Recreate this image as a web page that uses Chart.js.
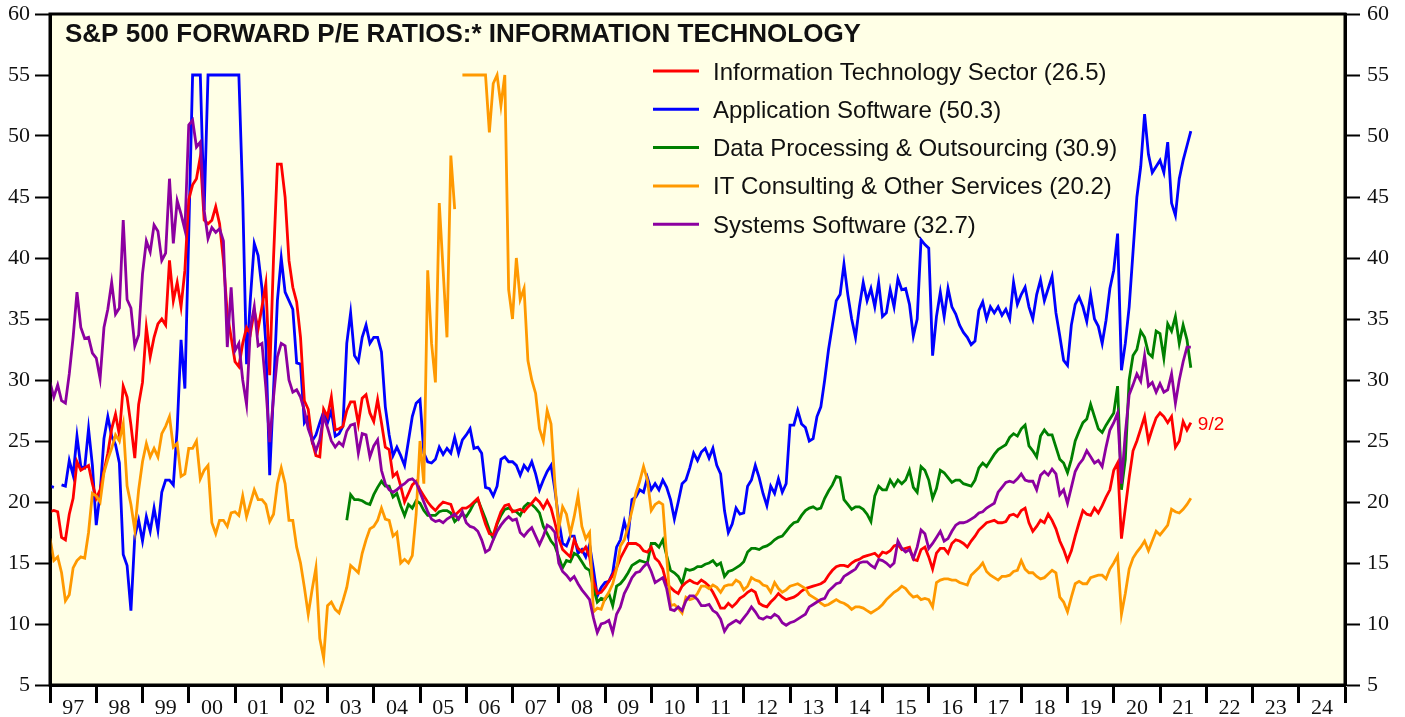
<!DOCTYPE html>
<html>
<head>
<meta charset="utf-8">
<script src="https://cdn.jsdelivr.net/npm/chart.js@4.4.0/dist/chart.umd.min.js"></script>
<style>
  html, body { margin: 0; padding: 0; background: #fff; }
  #wrap { width: 1405px; height: 717px; }
</style>
</head>
<body>
<div id="wrap"><canvas id="chart" width="1405" height="717"></canvas></div>
<script>
// monthly readings, Jan 1997 .. Sep 2021 (one row per year)
var yearLabels = ['97','98','99','00','01','02','03','04','05','06','07','08','09','10',
                  '11','12','13','14','15','16','17','18','19','20','21','22','23','24'];
var yTicks = [5, 10, 15, 20, 25, 30, 35, 40, 45, 50, 55, 60];

var seriesNames = ['Information Technology Sector (26.5)', 'Application Software (50.3)',
                   'Data Processing & Outsourcing (30.9)', 'IT Consulting & Other Services (20.2)',
                   'Systems Software (32.7)'];

var techSector = [
  19.2,19.3,19.2,17.1,16.9,19.0,20.3,23.3,22.6,22.8,23.0,21.5,
  20.3,21.0,22.5,24.0,26.0,27.2,25.5,29.5,28.6,26.3,23.6,28.0,
  29.8,34.3,31.9,33.5,34.6,35.0,34.5,39.8,36.5,38.0,36.0,39.0,
  44.8,46.0,46.5,48.3,43.1,42.8,43.1,44.2,42.8,39.8,35.4,33.5,
  31.5,31.1,33.0,34.3,33.8,35.7,34.2,36.0,37.9,30.4,40.0,47.7,
  47.7,45.0,39.8,37.6,36.4,33.5,28.3,27.6,25.0,23.8,23.7,27.6,
  27.0,28.6,25.9,26.0,26.2,27.5,28.2,28.2,26.4,28.5,28.8,27.3,
  26.6,28.4,26.5,24.5,24.3,22.1,22.4,21.3,20.0,20.7,21.4,21.7,
  21.0,20.5,20.0,19.6,19.3,19.7,20.0,19.9,19.8,18.9,19.2,19.5,
  19.5,19.7,20.0,20.3,19.2,18.2,17.4,17.3,18.3,19.2,19.7,19.8,
  19.2,19.3,19.4,19.2,19.6,19.9,20.3,20.0,19.5,20.1,19.5,18.3,
  17.0,16.1,15.8,15.5,16.9,16.2,15.9,16.3,15.5,13.5,12.5,12.6,
  13.0,13.5,14.0,14.6,15.4,16.0,16.6,16.6,16.6,16.4,16.0,15.9,
  16.3,15.4,15.1,14.5,13.3,13.0,12.7,12.5,13.1,13.4,13.6,13.4,
  13.3,13.6,13.4,13.1,12.6,12.0,11.3,11.3,11.7,11.4,11.7,12.1,
  12.3,12.6,12.8,12.6,11.7,11.5,11.4,11.8,12.1,12.5,12.2,12.0,
  12.1,12.2,12.4,12.7,12.9,13.0,13.1,13.2,13.3,13.5,14.0,14.4,
  14.7,14.8,14.8,14.7,15.0,15.2,15.3,15.5,15.6,15.7,15.8,15.5,
  15.9,15.8,16.0,16.4,16.5,16.1,16.2,16.3,15.3,15.2,16.1,16.3,
  15.5,14.5,15.8,16.2,16.2,15.8,16.6,16.9,16.8,16.6,16.3,16.8,
  17.2,17.7,18.0,18.3,18.4,18.5,18.3,18.3,18.4,18.9,19.0,18.8,
  19.3,19.5,18.3,17.6,18.0,18.5,18.3,19.0,18.5,17.8,16.8,16.1,
  15.2,16.0,17.2,18.3,19.3,19.0,18.9,19.5,19.1,19.7,20.4,21.0,
  22.6,23.2,17.0,19.5,22.0,24.2,25.0,26.0,27.0,25.0,26.0,26.9,
  27.3,27.0,26.5,27.0,24.5,25.0,26.6,25.9,26.5
];

var appSoftware = [
  21.3,21.2,null,21.4,21.3,23.4,22.2,25.4,22.9,22.8,26.0,23.0,
  18.1,20.7,25.2,27.0,25.4,24.7,23.2,15.7,14.8,11.1,17.2,18.5,
  16.8,18.8,17.6,19.5,17.7,20.8,21.8,21.8,21.4,26.0,33.3,29.3,
  42.0,55,55,55,43.9,55,55,55,55,55,55,55,
  55,55,45.0,31.3,36.7,41.2,40.2,37.5,33.0,22.2,29.2,36.5,
  40.0,37.2,36.5,35.8,31.4,31.3,26.5,27.0,25.0,25.5,26.5,27.4,
  26.5,27.5,25.4,25.6,26.2,33.0,35.5,32.0,31.5,33.5,34.5,33.0,
  33.5,33.5,32.3,27.8,25.5,23.8,24.5,23.8,23.0,25.0,27.0,28.1,
  28.4,24.0,23.3,23.2,23.5,24.5,23.9,24.4,24.0,25.3,24.0,25.1,
  25.5,26.0,24.4,24.5,24.0,21.2,21.1,20.5,21.3,23.5,23.7,23.3,
  23.3,23.0,22.2,23.0,22.6,23.3,22.3,21.0,21.8,22.5,23.0,21.0,
  18.5,16.6,16.4,17.2,17.2,15.8,16.1,15.5,16.5,14.5,12.3,13.0,
  13.4,13.5,14.2,16.3,16.9,18.4,17.2,20.2,20.4,21.0,20.8,22.0,
  21.0,21.5,21.0,21.8,21.2,20.2,18.6,20.0,21.5,21.8,22.8,24.0,
  23.4,24.1,24.4,23.6,24.4,23.0,22.3,19.3,17.5,18.2,19.5,19.0,
  19.1,21.3,21.8,23.0,22.0,20.7,19.7,21.3,20.7,21.9,20.8,21.5,
  26.3,26.3,27.5,26.4,26.1,25.0,25.2,27.0,27.8,30.0,32.5,34.5,
  36.5,37.0,39.5,37.0,35.0,33.5,36.0,38.0,36.5,37.5,36.0,38.0,
  35.2,35.5,37.4,36.0,38.3,37.4,37.5,36.2,33.6,35.0,41.5,41.1,
  40.8,32.0,35.2,37.2,35.2,37.5,36.0,35.4,34.5,33.9,33.5,32.9,
  33.2,35.7,36.4,35.0,36.0,35.5,36.0,35.3,35.8,35.0,38.0,36.2,
  37.0,37.6,36.0,35.0,37.0,38.2,36.5,37.5,38.5,35.5,33.6,31.6,
  31.2,34.5,36.2,36.8,36.0,34.8,37.0,35.0,34.4,33.0,34.9,37.5,
  39.0,42.0,30.8,33.0,36.0,40.5,45.0,47.5,51.8,48.5,47.0,47.5,
  48.0,47.0,49.5,44.5,43.5,46.5,48.0,49.2,50.4
];

var dataProcessing = [
  null,null,null,null,null,null,null,null,null,null,null,null,
  null,null,null,null,null,null,null,null,null,null,null,null,
  null,null,null,null,null,null,null,null,null,null,null,null,
  null,null,null,null,null,null,null,null,null,null,null,null,
  null,null,null,null,null,null,null,null,null,null,null,null,
  null,null,null,null,null,null,null,null,null,null,null,null,
  null,null,null,null,null,18.5,20.6,20.2,20.2,20.1,19.9,19.8,
  20.6,21.2,21.7,21.3,21.3,20.4,20.7,19.7,18.9,19.8,19.5,20.1,
  19.9,19.3,18.9,18.9,18.9,19.2,19.3,19.3,19.1,18.4,18.7,19.0,
  18.8,19.3,19.9,20.2,19.4,18.6,17.7,17.0,18.2,18.9,19.4,19.5,
  19.3,19.2,18.9,19.6,19.9,19.8,19.5,19.1,18.0,17.4,16.8,16.4,
  15.5,14.6,15.2,15.1,15.8,15.6,15.1,14.6,14.4,13.0,11.8,12.1,
  12.0,12.5,11.5,13.1,13.3,13.7,14.2,14.8,15.0,15.2,15.1,15.0,
  16.6,16.6,16.3,16.9,15.6,14.4,14.2,13.9,13.3,14.5,14.4,14.5,
  14.7,14.7,14.9,15.0,15.2,14.8,15.0,13.9,14.3,14.4,14.6,14.8,
  15.1,15.9,16.2,16.2,16.1,16.3,16.4,16.6,16.9,17.1,17.2,17.6,
  18.0,18.3,18.4,18.9,19.3,19.5,19.6,19.4,19.5,20.3,20.9,21.4,
  22.1,22.0,20.2,19.8,19.4,19.6,19.6,19.4,19.0,18.4,20.5,21.3,
  21.0,21.0,21.8,21.3,21.8,21.5,21.8,22.6,21.2,20.8,22.9,22.6,
  21.8,20.3,21.1,22.6,22.4,22.0,21.6,21.8,21.8,21.5,21.4,21.3,
  21.8,22.8,23.2,22.9,23.4,23.9,24.3,24.5,24.7,25.3,25.6,25.4,
  26.0,26.3,24.6,24.2,23.7,25.4,25.9,25.5,25.5,24.5,23.5,23.2,
  22.4,23.5,25.0,25.8,26.5,26.8,28.0,27.0,26.0,25.7,26.3,26.8,
  27.3,29.5,21.0,23.5,30.0,32.0,32.5,34.0,33.5,32.2,31.9,34.0,
  33.8,31.8,34.6,34.0,35.2,33.0,34.5,33.3,31.0
];

var itConsulting = [
  17.0,15.2,15.5,14.2,11.9,12.4,14.6,15.2,15.5,15.4,17.5,20.7,
  20.5,20.0,22.4,23.5,24.4,25.5,25.0,26.4,21.3,19.8,17.7,21.0,
  23.3,24.8,23.7,24.4,23.7,25.6,26.2,27.0,24.5,24.8,22.1,22.3,
  24.4,24.4,25.0,21.9,22.6,23.0,18.3,17.4,18.5,18.5,18.0,19.1,
  19.2,18.9,20.5,18.8,19.9,21.0,20.2,20.2,19.8,18.4,19.0,21.5,
  22.8,21.5,18.5,18.5,16.3,15.0,13.0,10.8,12.8,14.6,8.8,7.2,
  11.5,11.8,11.2,10.9,11.9,13.0,14.8,14.5,14.2,15.8,16.9,17.8,
  18.0,18.5,19.5,18.6,18.5,17.2,17.5,15.0,15.3,15.0,15.6,19.0,
  25.0,21.5,39.0,33.0,29.8,44.5,39.0,33.5,48.4,44.0,null,55,
  55,55,55,55,55,55,50.3,54.3,55,52.5,55,37.4,
  35.0,40.0,36.6,37.5,31.6,30.0,28.9,26.0,25.0,27.5,26.4,21.5,
  17.8,19.6,19.0,17.4,18.8,20.5,18.0,17.0,17.5,11.0,11.3,11.2,
  12.1,12.6,13.3,14.5,16.4,16.9,18.0,19.3,20.7,21.7,22.9,21.8,
  19.3,19.8,20.0,19.8,15.5,11.5,11.6,11.3,10.9,12.2,12.0,12.1,
  12.5,13.1,13.1,12.9,13.2,13.0,12.6,13.1,13.2,13.2,13.6,13.4,
  12.8,13.1,13.8,13.6,13.5,13.2,13.1,12.6,13.4,12.9,12.6,12.8,
  13.1,13.2,13.3,13.1,12.9,12.4,12.2,12.0,11.7,11.5,11.6,11.8,
  12.0,11.8,11.7,11.5,11.2,11.4,11.4,11.3,11.1,10.9,11.1,11.3,
  11.6,12.0,12.3,12.6,12.8,13.1,12.9,12.5,12.2,12.3,12.0,12.1,
  12.0,11.4,13.4,13.6,13.7,13.7,13.6,13.6,13.4,13.3,13.2,14.0,
  14.3,14.6,15.0,14.3,14.0,13.8,13.6,13.9,13.9,14.0,14.3,14.4,
  15.2,14.5,14.2,14.2,13.9,13.7,13.8,14.1,14.4,14.2,12.2,11.8,
  11.0,12.2,13.3,13.5,13.3,13.3,13.8,13.9,14.0,14.0,13.7,14.5,
  15.0,15.6,10.8,12.5,14.5,15.4,15.9,16.3,16.8,16.0,16.8,17.6,
  17.3,17.7,18.1,19.4,19.2,19.1,19.4,19.8,20.3
];

var sysSoftware = [
  29.8,28.6,29.6,28.3,28.1,30.5,33.5,37.2,34.3,33.4,33.5,32.2,
  31.8,30.1,34.3,35.8,38.0,35.4,35.9,43.1,36.6,35.9,32.8,33.7,
  38.7,41.4,40.5,42.7,42.2,39.8,40.4,46.5,41.2,44.7,43.6,42.3,
  50.9,51.3,49.1,49.5,43.9,41.6,42.5,42.1,42.4,41.4,32.7,37.6,
  32.4,33.0,30.0,28.0,34.3,36.0,32.8,33.0,29.4,24.9,28.6,31.9,
  33.0,32.8,30.0,29.0,29.2,28.6,27.5,26.0,25.1,24.2,25.1,27.0,
  26.1,25.0,24.5,24.9,24.6,25.8,26.3,26.4,24.0,25.6,25.5,23.7,
  24.6,25.1,22.6,21.5,21.0,20.8,21.0,21.3,21.5,21.8,21.9,21.6,
  20.8,20.0,19.2,18.6,18.4,18.5,18.3,18.6,18.8,19.0,18.6,19.2,
  18.3,18.0,17.9,17.6,16.9,15.9,16.1,16.9,17.6,18.1,18.5,18.8,
  18.5,18.6,17.5,17.2,17.6,17.9,17.2,16.5,17.2,18.1,17.9,17.5,
  15.0,14.3,14.0,13.6,13.9,13.3,12.8,12.4,12.0,10.5,9.3,10.0,
  10.1,10.3,9.3,10.8,11.4,12.5,13.1,13.8,14.2,14.3,14.7,15.0,
  14.3,13.4,13.6,13.8,12.9,11.2,11.1,11.4,11.1,11.9,12.3,12.3,
  12.0,11.5,11.5,11.6,11.1,10.9,10.4,9.4,9.9,10.1,10.3,10.1,
  10.5,10.9,11.4,11.0,10.5,10.4,10.6,10.5,10.8,10.6,10.1,9.9,
  10.1,10.2,10.4,10.6,10.8,11.4,11.6,11.8,12.0,12.1,12.7,13.0,
  13.3,13.4,13.9,14.1,14.3,14.5,15.0,15.1,15.1,14.8,14.6,15.3,
  15.2,15.0,14.7,15.0,16.8,16.2,15.9,16.1,15.4,16.3,17.7,17.4,
  16.2,16.6,17.1,17.6,16.8,17.0,17.6,18.1,18.3,18.3,18.4,18.6,
  18.8,19.1,19.2,19.5,19.7,19.9,20.8,21.2,21.6,21.7,21.6,21.9,
  22.3,21.8,21.7,21.7,21.0,22.2,22.5,22.2,22.7,22.3,20.6,21.0,
  19.9,21.2,22.5,23.1,23.5,24.2,23.7,23.2,23.4,22.9,24.5,25.9,
  26.5,27.3,21.5,25.6,28.8,29.6,30.5,29.9,32.0,29.5,29.8,29.0,
  29.7,29.0,29.2,30.5,28.1,30.0,31.5,32.7,32.7
];

var months = [];
for (var i = 0; i < techSector.length; i++) { months.push(1997 + i / 12); }

function toPoints(vals) {
  return vals.map(function (v, i) { return { x: months[i], y: v }; });
}

var colors = ['#ff0000', '#0000ff', '#008000', '#ff9900', '#8c00a0'];
var allSeries = [techSector, appSoftware, dataProcessing, itConsulting, sysSoftware];
var drawOrder = [2, 4, 3, 1, 0];   // lower = on top

var datasets = allSeries.map(function (vals, k) {
  return {
    label: seriesNames[k],
    data: toPoints(vals),
    borderColor: colors[k],
    borderWidth: 2.8,
    pointRadius: 0,
    tension: 0,
    spanGaps: false,
    order: drawOrder[k],
    yAxisID: 'y'
  };
});

var serif = '"Liberation Serif", "Times New Roman", serif';
var sans = '"Liberation Sans", Arial, sans-serif';

var chartDecor = {
  id: 'chartDecor',
  beforeDraw: function (chart) {
    var a = chart.chartArea, c = chart.ctx;
    c.save();
    c.fillStyle = '#ffffff';
    c.fillRect(0, 0, chart.width, chart.height);
    c.fillStyle = '#ffffe6';
    c.fillRect(a.left, a.top, a.right - a.left, a.bottom - a.top);
    c.restore();
  },
  afterDraw: function (chart) {
    var a = chart.chartArea, c = chart.ctx;
    c.save();
    c.strokeStyle = '#000';
    c.lineWidth = 3;
    c.strokeRect(a.left, a.top, a.right - a.left, a.bottom - a.top);

    // title
    c.fillStyle = '#111';
    c.font = 'bold 26px ' + sans;
    c.textBaseline = 'alphabetic';
    c.fillText('S&P 500 FORWARD P/E RATIOS:* INFORMATION TECHNOLOGY', a.left + 15, a.top + 28);

    // legend
    c.font = '24px ' + sans;
    for (var k = 0; k < seriesNames.length; k++) {
      var base = 79.5 + k * 38.3;
      c.strokeStyle = colors[k];
      c.lineWidth = 3;
      c.beginPath();
      c.moveTo(653, base - 8.5);
      c.lineTo(699, base - 8.5);
      c.stroke();
      c.fillStyle = '#111';
      c.fillText(seriesNames[k], 713, base);
    }

    // date marker next to the last IT sector point
    var xs = chart.scales.x, ys = chart.scales.y;
    var last = techSector.length - 1;
    c.fillStyle = '#ff0000';
    c.font = '19px ' + sans;
    c.fillText('9/2', xs.getPixelForValue(months[last]) + 7, ys.getPixelForValue(techSector[last]) + 7.5);
    c.restore();
  }
};

function yAxis(pos, w, pad) {
  return {
    type: 'linear',
    position: pos,
    min: 5,
    max: 60,
    afterBuildTicks: function (scale) {
      scale.ticks = yTicks.map(function (v) { return { value: v }; });
    },
    afterFit: function (scale) {
      scale.width = w;
      scale.paddingTop = 0;
      scale.paddingBottom = 0;
    },
    ticks: {
      font: { family: serif, size: 22 },
      color: '#111',
      padding: pad
    },
    grid: {
      drawOnChartArea: false,
      drawTicks: true,
      tickLength: 15,
      tickWidth: 2,
      tickColor: '#000'
    },
    border: { display: true, width: 3, color: '#000' }
  };
}

new Chart(document.getElementById('chart'), {
  type: 'line',
  data: { datasets: datasets },
  options: {
    responsive: false,
    animation: false,
    events: [],
    layout: { padding: { top: 14, left: 0, right: 0, bottom: 0 } },
    plugins: { legend: { display: false }, tooltip: { enabled: false }, title: { display: false } },
    scales: {
      x: {
        type: 'linear',
        min: 1997,
        max: 2025,
        afterBuildTicks: function (scale) {
          var t = [];
          for (var k = 0; k <= yearLabels.length * 2; k++) { t.push({ value: 1997 + k / 2 }); }
          scale.ticks = t;
        },
        afterFit: function (scale) {
          scale.height = 32;
          scale.paddingLeft = 0;
          scale.paddingRight = 0;
        },
        ticks: {
          autoSkip: false,
          maxRotation: 0,
          padding: -8,
          font: { family: serif, size: 22 },
          color: '#111',
          callback: function (v) {
            return Number.isInteger(v) ? '' : yearLabels[Math.floor(v) - 1997];
          }
        },
        grid: {
          drawOnChartArea: false,
          drawTicks: true,
          tickLength: 18,
          tickWidth: 3,
          tickColor: function (ctx) {
            return ctx.tick && Number.isInteger(ctx.tick.value) ? '#000' : 'rgba(0,0,0,0)';
          }
        },
        border: { display: true, width: 3, color: '#000' }
      },
      y: yAxis('left', 50, 5),
      y2: yAxis('right', 60, 7)
    }
  },
  plugins: [chartDecor]
});
</script>
</body>
</html>
